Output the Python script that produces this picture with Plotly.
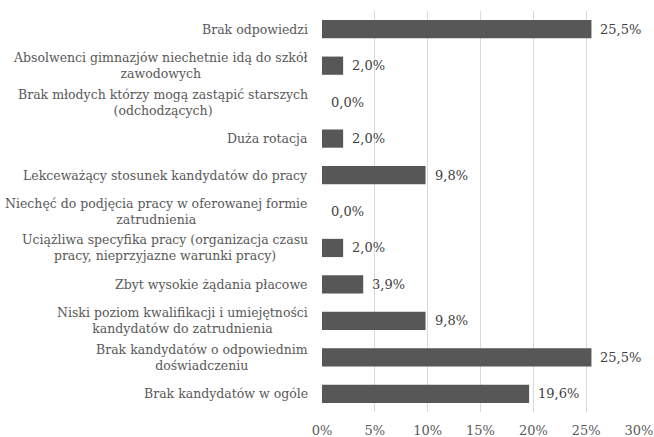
import plotly.graph_objects as go

# Reasons reported for recruitment difficulties (top to bottom as displayed)
categories = [
    "Brak odpowiedzi",
    "Absolwenci gimnazjów niechetnie idą do szkół<br>zawodowych",
    "Brak młodych którzy mogą zastąpić starszych<br>(odchodzących)",
    "Duża rotacja",
    "Lekceważący stosunek kandydatów do pracy",
    "Niechęć do podjęcia pracy w oferowanej formie<br>zatrudnienia",
    "Uciążliwa specyfika pracy (organizacja czasu<br>pracy, nieprzyjazne warunki pracy)",
    "Zbyt wysokie żądania płacowe",
    "Niski poziom kwalifikacji i umiejętności<br>kandydatów do zatrudnienia",
    "Brak kandydatów o odpowiednim<br>doświadczeniu",
    "Brak kandydatów w ogóle",
]
values = [25.5, 2.0, 0.0, 2.0, 9.8, 0.0, 2.0, 3.9, 9.8, 25.5, 19.6]
x_ticks = [0, 5, 10, 15, 20, 25, 30]

FONT = "DejaVu Serif"
ids = list(range(len(categories)))

fig = go.Figure(
    go.Bar(
        y=ids,
        x=values,
        orientation="h",
        width=0.5,
        marker=dict(color="#575757", line=dict(width=0)),
        hoverinfo="skip",
    )
)

# Value labels to the right of each bar
for i, v in zip(ids, values):
    fig.add_annotation(
        x=v, y=i, xref="x", yref="y",
        text=f"{v:.1f}%".replace(".", ","),
        showarrow=False, xanchor="left", xshift=7,
        font=dict(family=FONT, size=13, color="#404040"),
    )

# Category labels, centred per line, right-aligned against the axis
for i, c in zip(ids, categories):
    fig.add_annotation(
        x=0, y=i, xref="paper", yref="y",
        text=c, showarrow=False, xanchor="right", align="center",
        xshift=-12,
        font=dict(family=FONT, size=12.5, color="#595959"),
    )

fig.update_layout(
    width=654, height=437,
    margin=dict(l=322, r=15, t=11, b=25),
    paper_bgcolor="white", plot_bgcolor="white",
    showlegend=False,
    xaxis=dict(
        range=[0, 30], tickvals=x_ticks,
        ticktext=[f"{t}%" for t in x_ticks],
        showgrid=True, gridcolor="#d9d9d9", gridwidth=1,
        zeroline=False, showline=False, ticks="",
        ticklabelstandoff=9,
        tickfont=dict(family=FONT, size=13, color="#595959"),
        automargin=False,
        fixedrange=True,
    ),
    yaxis=dict(
        range=[len(categories) - 0.5, -0.5],
        showticklabels=False, showgrid=False, zeroline=False,
        showline=False, ticks="", fixedrange=True,
        automargin=False,
    ),
)

fig.write_html("out.html")
